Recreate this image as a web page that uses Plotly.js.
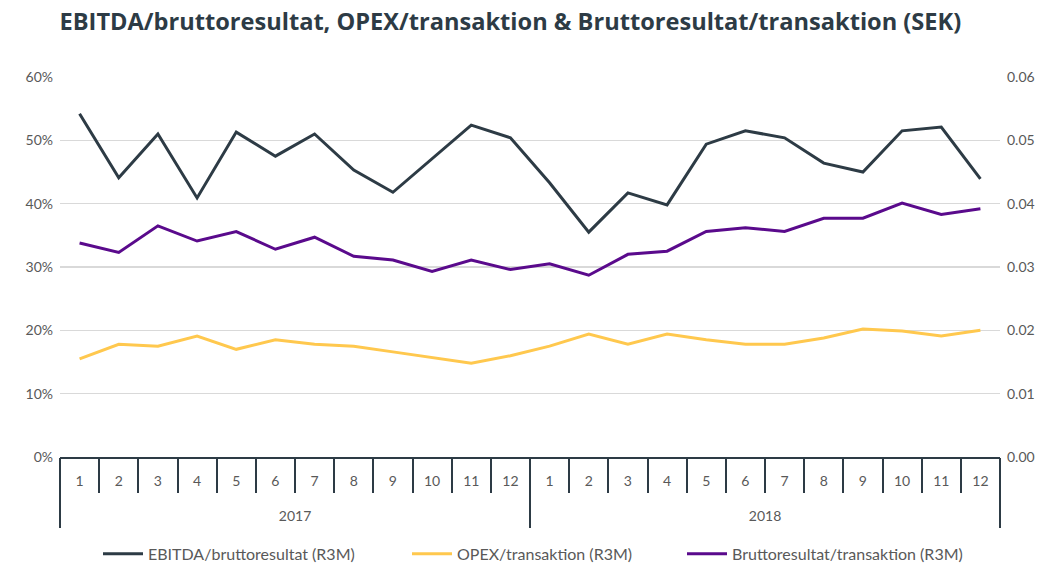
<!DOCTYPE html>
<html>
<head>
<meta charset="utf-8">
<script src="https://cdn.plot.ly/plotly-3.0.1.min.js"></script>
<style>html,body{margin:0;padding:0;background:#fff;}#chart{width:1048px;height:566px;}</style>
</head>
<body>
<div id="chart"></div>
<script>
const years = ['2017', '2018'];
const months = ['1','2','3','4','5','6','7','8','9','10','11','12'];
const ebitdaPerGross = [0.542,0.441,0.510,0.409,0.513,0.475,0.510,0.453,0.418,0.471,0.524,0.504,
                        0.433,0.355,0.417,0.398,0.494,0.515,0.504,0.464,0.450,0.515,0.521,0.439];
const opexPerTx = [0.0155,0.0178,0.0175,0.0191,0.0170,0.0185,0.0178,0.0175,0.0166,0.0157,0.0148,0.0160,
                   0.0175,0.0194,0.0178,0.0194,0.0185,0.0178,0.0178,0.0188,0.0202,0.0199,0.0191,0.0200];
const grossPerTx = [0.0338,0.0323,0.0365,0.0341,0.0356,0.0328,0.0347,0.0317,0.0311,0.0293,0.0311,0.0296,
                    0.0305,0.0287,0.0320,0.0325,0.0356,0.0362,0.0356,0.0377,0.0377,0.0401,0.0383,0.0392];
const seriesNames = ['EBITDA/bruttoresultat (R3M)', 'OPEX/transaktion (R3M)', 'Bruttoresultat/transaktion (R3M)'];

const monthLabels = [];
years.forEach(() => months.forEach(m => monthLabels.push(m)));
const idx = monthLabels.map((_, i) => i);
const n = idx.length;
const boundaries = [];
for (let i = 0; i <= n; i++) boundaries.push(i - 0.5);
const yearCenters = years.map((_, k) => k * months.length + (months.length - 1) / 2);
const yearBounds = [];
for (let k = 0; k <= years.length; k++) yearBounds.push(k * months.length - 0.5);

const dark = '#2d3b45', yellow = '#ffc84e', purple = '#5a0a8c';
const font = 'Lato, "Open Sans", sans-serif';

const traces = [
  {x: idx, y: ebitdaPerGross, name: seriesNames[0], type: 'scatter', mode: 'lines', line: {color: dark, width: 3}, xaxis: 'x', yaxis: 'y', legend: 'legend'},
  {x: idx, y: opexPerTx, name: seriesNames[1], type: 'scatter', mode: 'lines', line: {color: yellow, width: 3}, xaxis: 'x', yaxis: 'y2', legend: 'legend2'},
  {x: idx, y: grossPerTx, name: seriesNames[2], type: 'scatter', mode: 'lines', line: {color: purple, width: 3}, xaxis: 'x', yaxis: 'y2', legend: 'legend3'},
  {x: [idx[0]], y: [0], xaxis: 'x2', yaxis: 'y', mode: 'markers', marker: {opacity: 0}, showlegend: false, hoverinfo: 'skip'},
  {x: [idx[0]], y: [0], xaxis: 'x3', yaxis: 'y', mode: 'markers', marker: {opacity: 0}, showlegend: false, hoverinfo: 'skip'},
  {x: [idx[0]], y: [0], xaxis: 'x4', yaxis: 'y', mode: 'markers', marker: {opacity: 0}, showlegend: false, hoverinfo: 'skip'}
];

const xr = [-0.5, n - 0.5];
const legendBase = {orientation: 'h', xanchor: 'left', y: -0.255, yanchor: 'middle',
                    font: {family: font, size: 16, color: '#595959'}, itemwidth: 40, bgcolor: 'rgba(0,0,0,0)'};
const layout = {
  width: 1048, height: 566,
  margin: {l: 60, r: 48, t: 77, b: 109, autoexpand: false},
  paper_bgcolor: '#fff', plot_bgcolor: '#fff',
  font: {family: font, size: 14, color: '#595959'},
  title: {text: 'EBITDA/bruttoresultat, OPEX/transaktion &amp; Bruttoresultat/transaktion (SEK)',
          font: {family: '"Open Sans", sans-serif', size: 23.6, color: '#2d3b45', weight: 700},
          x: 0.487, xanchor: 'center', y: 0.962, yanchor: 'middle'},
  showlegend: true,
  legend: Object.assign({}, legendBase, {x: (98 - 60) / 940}),
  legend2: Object.assign({}, legendBase, {x: (407 - 60) / 940}),
  legend3: Object.assign({}, legendBase, {x: (682 - 60) / 940}),
  xaxis: {range: xr, tickmode: 'array', tickvals: idx, ticktext: monthLabels, ticks: '', showgrid: false,
          zeroline: false, showline: true, linecolor: dark, linewidth: 2, ticklabelstandoff: 10,
          tickfont: {family: font, size: 14, color: '#595959'}, fixedrange: true},
  xaxis2: {overlaying: 'x', range: xr, tickmode: 'array', tickvals: boundaries, ticks: 'outside', ticklen: 35,
           tickwidth: 2, tickcolor: dark, showticklabels: false, showgrid: false, zeroline: false, side: 'bottom', anchor: 'y'},
  xaxis3: {overlaying: 'x', range: xr, tickmode: 'array', tickvals: yearBounds, ticks: 'outside', ticklen: 70,
           tickwidth: 2, tickcolor: dark, showticklabels: false, showgrid: false, zeroline: false, side: 'bottom', anchor: 'y'},
  xaxis4: {overlaying: 'x', range: xr, tickmode: 'array', tickvals: yearCenters, ticktext: years, ticks: '',
           showgrid: false, zeroline: false, side: 'bottom', anchor: 'y', ticklabelstandoff: 49,
           tickfont: {family: font, size: 14, color: '#595959'}},
  yaxis: {range: [0, 0.6], dtick: 0.1, tickformat: '.0%', showgrid: true, gridcolor: '#d9d9d9', gridwidth: 1.5,
          zeroline: false, ticks: '', ticklabelstandoff: 6, tickfont: {family: font, size: 14, color: '#595959'}},
  yaxis2: {range: [0, 0.06], dtick: 0.01, tickformat: '.2f', overlaying: 'y', side: 'right', showgrid: false,
           zeroline: false, ticks: '', ticklabelstandoff: 6, tickfont: {family: font, size: 14, color: '#595959'}}
};

Plotly.newPlot('chart', traces, layout, {displayModeBar: false, staticPlot: true});
</script>
</body>
</html>
